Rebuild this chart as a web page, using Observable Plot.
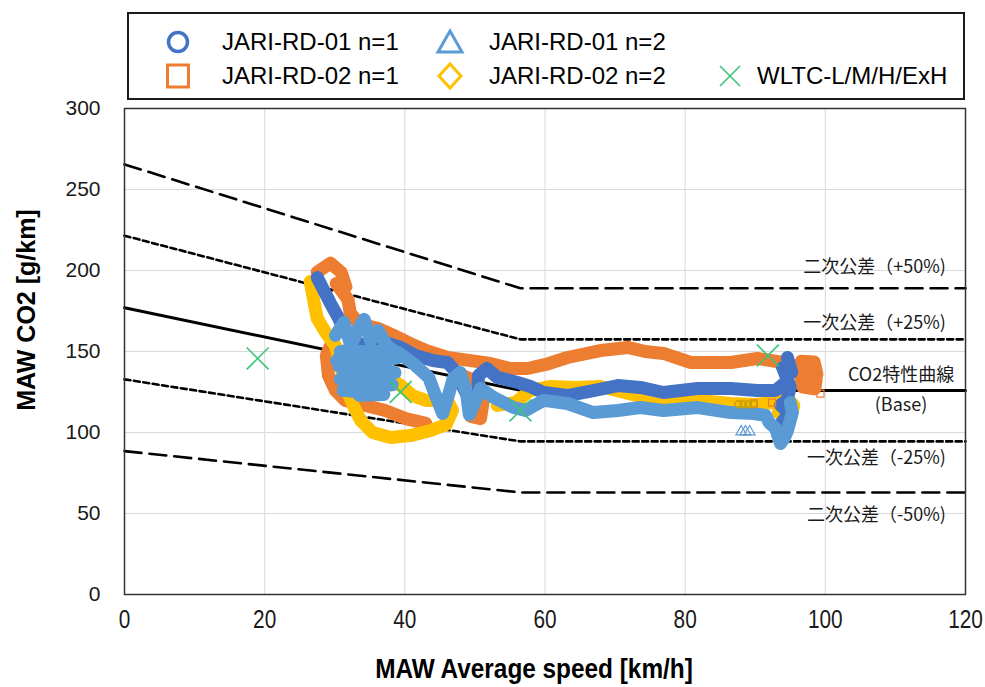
<!DOCTYPE html>
<html><head><meta charset="utf-8">
<script src="https://cdn.jsdelivr.net/npm/d3@7"></script>
<script src="https://cdn.jsdelivr.net/npm/@observablehq/plot@0.6"></script>
<style>
body{margin:0;background:#fff;}
#wrap{position:relative;width:985px;height:687px;overflow:hidden;font-family:"Liberation Sans",Arial,sans-serif;background:#fff;}
#chart{position:absolute;left:0;top:0;}
#legend{position:absolute;left:127px;top:12px;width:834px;height:84px;border:2px solid #1a1a1a;background:#fff;}
#legend span{position:absolute;font-size:24px;line-height:1;color:#000;white-space:nowrap;}
#legend svg{position:absolute;left:0;top:0;}
#xlabel{position:absolute;left:534px;top:655px;transform:translateX(-50%) scaleX(0.87);font-weight:bold;font-size:28px;line-height:1;white-space:nowrap;}
#ylabel{position:absolute;left:26px;top:310px;transform:translate(-50%,-50%) rotate(-90deg);font-weight:bold;font-size:25px;line-height:1;white-space:nowrap;}
</style>
</head><body>
<div id="wrap">
  <div id="chart"></div>
  <div id="legend">
    <svg width="834" height="84">
      <circle cx="49" cy="28" r="9.5" fill="none" stroke="#4472C4" stroke-width="3.5"/>
      <path d="M321,17 L333,38 L309,38 Z" fill="none" stroke="#5B9BD5" stroke-width="3" stroke-linejoin="miter"/>
      <rect x="38.5" y="51" width="21" height="22" fill="none" stroke="#ED7D31" stroke-width="3"/>
      <path d="M321,50 L332,62 L321,74 L310,62 Z" fill="none" stroke="#FFC000" stroke-width="3"/>
      <path d="M591,52 L611,72 M611,52 L591,72" fill="none" stroke="#3CC47C" stroke-width="1.6"/>
    </svg>
    <span style="left:93px;top:16px">JARI-RD-01 n=1</span>
    <span style="left:360px;top:16px">JARI-RD-01 n=2</span>
    <span style="left:93px;top:50px">JARI-RD-02 n=1</span>
    <span style="left:360px;top:50px">JARI-RD-02 n=2</span>
    <span style="left:628px;top:50px">WLTC-L/M/H/ExH</span>
  </div>
  <div id="xlabel">MAW Average speed [km/h]</div>
  <div id="ylabel">MAW CO2 [g/km]</div>
</div>
<script>
// ---- reference (tolerance) curves: speed breakpoints and CO2 values ----
const refSpeed = [0, 56.5, 120];
const baseCO2 = [177, 126, 126];
const plus25CO2 = [221.5, 157.5, 157.5];
const minus25CO2 = [132.8, 94.5, 94.5];
const plus50CO2 = [265.5, 189, 189];
const minus50CO2 = [88.5, 63, 63];

// ---- JARI-RD-01 n=1 (MAW trace) ----
const rd01n1Speed = [27.5,28.3,29.4,30.5,31.5,33.0,35.1,37.2,39.4,41.5,44.0,46.1,47.4,48.4,49.4,50.4,50.5,51.7,53.2,56.1,57.9,59.8,63.2,66.9,70.4,73.6,76.9,81.8,86.5,90.3,92.9,94.3,94.8,94.6,95.2,93.9,95.0,94.5,93.6,94.8,93.6];
const rd01n1CO2   = [195.7,188.9,179.6,171.0,161.7,155.6,152.5,155.6,152.5,147.5,144.4,143.2,137.0,127.2,118.5,122.8,135.2,139.5,134.0,130.9,128.4,124.7,122.8,125.9,129.0,127.8,124.7,127.2,127.2,125.9,125.9,130.9,141.4,146.3,137.0,140.0,128.0,119.8,117.0,112.0,105.0];

// ---- JARI-RD-01 n=2 ----
const rd01n2Speed = [30.1,31.3,32.3,33.4,34.2,35.1,36.2,37.4,38.6,30.8,38.8,30.6,38.6,30.8,38.2,31.2,37.0,33.5,30.3,31.5,33.0,35.1,37.2,39.0,41.2,43.4,44.5,45.4,46.2,46.9,47.9,48.8,49.2,50.1,50.8,52.7,55.5,57.2,59.8,63.2,66.9,70.4,73.6,76.9,81.8,86.5,89.8,91.5,92.0,92.9,93.6,94.2,94.6,95.3,95.0];
const rd01n2CO2   = [159.9,167.9,153.7,164.2,169.8,156.8,163.0,153.7,150.0,150.0,146.0,141.0,137.0,133.0,129.5,126.0,123.5,123.0,144.4,150.6,141.4,137.0,144.4,149.4,142.6,134.0,121.6,111.7,122.8,133.3,137.0,124.1,111.1,119.8,127.2,121.6,115.4,113.6,119.8,117.9,112.3,113.6,115.4,113.6,115.4,112.3,111.7,110.5,106.0,102.5,93.2,97.0,101.2,112.3,118.5];

// ---- JARI-RD-02 n=1 (NaN = break between trace pieces) ----
const rd02n1Speed = [43.0,40.1,37.2,34.4,31.5,30.1,29.1,28.8,29.7,NaN,27.5,29.4,30.9,31.6,30.2,31.9,32.2,33.4,36.2,38.4,40.8,43.0,46.1,49.4,52.2,55.1,57.5,60.1,63.2,67.9,71.8,74.3,76.9,80.8,86.5,90.3,94.0,96.0,96.6,98.4,98.8,96.5,96.8,98.5,98.7,97.3,NaN,48.2,50.5,51.2,50.8,49.4];
const rd02n1CO2   = [105.6,108.6,113.6,116.7,119.8,125.9,135.2,147.5,156.8,NaN,199.0,204.5,199.0,190.0,192.0,182.0,174.0,167.3,164.2,159.9,154.9,150.6,146.3,144.4,142.6,139.5,139.5,142.0,146.3,150.6,152.5,150.0,148.8,143.2,143.2,145.7,143.2,139.5,144.0,143.5,136.0,134.0,128.0,127.0,133.0,138.0,NaN,135.2,130.9,119.8,108.6,109.9];

// ---- JARI-RD-02 n=2 ----
const rd02n2Speed = [26.5,27.0,27.5,28.8,30.1,30.8,31.5,32.5,33.7,35.4,38.0,40.8,43.7,45.9,46.8,46.1,44.8,43.0,41.1,39.4,37.2,35.4,NaN,53.2,55.8,57.9,60.8,64.4,67.9,70.8,73.6,76.9,81.8,86.5,90.0,92.5,94.3,95.5,95.0,93.3];
const rd02n2CO2   = [193.2,181.5,170.4,161.1,153.7,141.4,129.0,117.9,107.4,100.0,96.9,98.1,101.2,104.9,113.6,119.8,119.8,119.8,122.8,129.0,135.2,143.2,NaN,116.7,118.5,125.9,128.4,127.8,128.4,125.3,122.2,119.8,119.8,117.9,117.3,118.5,122.8,116.7,108.6,112.3];

// ---- isolated hollow markers ----
const triSpeed = [88.0, 88.6, 89.2];
const triCO2 = [100.5, 100.5, 100.5];
const goldPtSpeed = [87.6, 88.3, 89.0, 89.7];
const goldPtCO2 = [117.5, 117.5, 117.5, 117.5];
const sqSpeed = [89.8, 92.4, 99.3];
const sqCO2 = [118.0, 118.5, 124.0];

// ---- WLTC phases ----
const wltcSpeed = [19.0, 39.4, 56.5, 91.8];
const wltcCO2 = [145.7, 125.0, 113.6, 147.5];

// ---- tolerance labels ----
const tolLabels = ["二次公差（+50%)", "一次公差（+25%)", "一次公差（-25%)", "二次公差（-50%)"];
const tolLabelCO2 = [201.9, 167.3, 84.0, 48.8];
const baseLabels = ["CO2特性曲線", "(Base)"];
const baseLabelCO2 = [135.2, 116.7];

const xTicks = [0, 20, 40, 60, 80, 100, 120];
const yTicks = [0, 50, 100, 150, 200, 250, 300];

const pts = (X, Y) => X.map((x, i) => ({x, y: Y[i]}));
const ref = (Y) => pts(refSpeed, Y);

const COLORS = {rd01n1: "#4472C4", rd01n2: "#5B9BD5", rd02n1: "#ED7D31", rd02n2: "#FFC000", wltc: "#3CC47C"};
const trace = (X, Y, color) => Plot.line(pts(X, Y), {x: "x", y: "y", stroke: color, strokeWidth: 13, strokeLinecap: "round", strokeLinejoin: "round"});
const cjk = "'Noto Sans CJK JP', sans-serif";

const chart = Plot.plot({
  width: 985, height: 687,
  marginLeft: 124, marginRight: 20, marginTop: 108, marginBottom: 93,
  style: {fontFamily: "'Liberation Sans', Arial, sans-serif", background: "transparent"},
  x: {domain: [0, 120]},
  y: {domain: [0, 300]},
  marks: [
    Plot.gridX(xTicks.slice(1, -1), {stroke: "#d9d9d9", strokeOpacity: 1, strokeWidth: 1}),
    Plot.gridY(yTicks.slice(1, -1), {stroke: "#d9d9d9", strokeOpacity: 1, strokeWidth: 1}),
    Plot.axisX(xTicks, {tickSize: 0, tickPadding: 15, fontSize: 26, label: null, fill: "#1a1a1a"}),
    Plot.axisY(yTicks, {tickSize: 0, tickPadding: 24, fontSize: 21, label: null, fill: "#1a1a1a"}),
    Plot.line(ref(plus50CO2), {x: "x", y: "y", stroke: "#000", strokeWidth: 2.6, strokeDasharray: "17,8"}),
    Plot.line(ref(minus50CO2), {x: "x", y: "y", stroke: "#000", strokeWidth: 2.6, strokeDasharray: "17,8"}),
    Plot.line(ref(plus25CO2), {x: "x", y: "y", stroke: "#000", strokeWidth: 2.6, strokeDasharray: "6,3.5"}),
    Plot.line(ref(minus25CO2), {x: "x", y: "y", stroke: "#000", strokeWidth: 2.6, strokeDasharray: "6,3.5"}),
    Plot.line(ref(baseCO2), {x: "x", y: "y", stroke: "#000", strokeWidth: 3}),
    trace(rd02n1Speed, rd02n1CO2, COLORS.rd02n1),
    trace(rd02n2Speed, rd02n2CO2, COLORS.rd02n2),
    trace(rd01n1Speed, rd01n1CO2, COLORS.rd01n1),
    trace(rd01n2Speed, rd01n2CO2, COLORS.rd01n2),
    Plot.dot(pts(sqSpeed, sqCO2), {x: "x", y: "y", symbol: "square", r: 4, stroke: COLORS.rd02n1, strokeWidth: 1.2, fill: "none"}),
    Plot.dot(pts(goldPtSpeed, goldPtCO2), {x: "x", y: "y", symbol: "circle", r: 3.5, stroke: "#C9A000", strokeWidth: 1.5, fill: "none"}),
    Plot.dot(pts(triSpeed, triCO2), {x: "x", y: "y", symbol: "triangle", r: 4, stroke: COLORS.rd01n2, strokeWidth: 1.2, fill: "none"}),
    Plot.dot(pts(wltcSpeed, wltcCO2), {x: "x", y: "y", symbol: "times", r: 10, stroke: COLORS.wltc, strokeWidth: 1.6}),
    Plot.text(tolLabels, {x: () => 117.2, y: (d, i) => tolLabelCO2[i], text: d => d, textAnchor: "end", fontSize: 18, fontFamily: cjk, fill: "#1a1a1a"}),
    Plot.text(baseLabels, {x: () => 110.8, y: (d, i) => baseLabelCO2[i], text: d => d, textAnchor: "middle", fontSize: 18, fontFamily: cjk, fill: "#1a1a1a"}),
    Plot.frame({stroke: "#333", strokeWidth: 1.5})
  ]
});
document.getElementById("chart").appendChild(chart);
// narrow the x tick labels horizontally about their own centres (reference uses a condensed face)
d3.select(chart).selectAll('g[aria-label="x-axis tick label"] text').each(function () {
  const b = this.getBBox();
  const cx = b.x + b.width / 2;
  const t = this.getAttribute("transform") || "";
  this.setAttribute("transform", `${t} translate(${cx},0) scale(0.8,1) translate(${-cx},0)`);
});
</script>
</body></html>
